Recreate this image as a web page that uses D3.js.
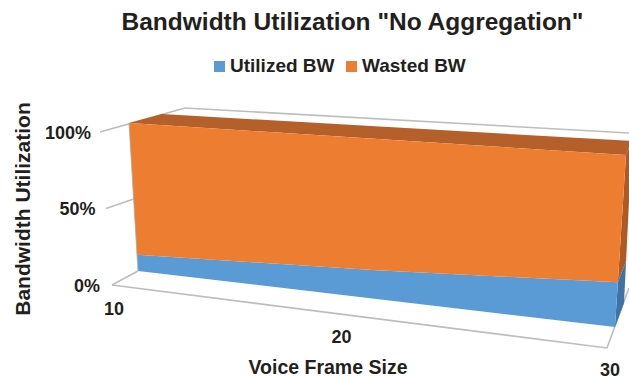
<!DOCTYPE html>
<html>
<head>
<meta charset="utf-8">
<script src="https://cdn.jsdelivr.net/npm/d3@7"></script>
<style>
  html, body { margin: 0; padding: 0; background: #fff; }
  svg { display: block; }
  text { font-family: "Liberation Sans", Arial, sans-serif; font-weight: bold; fill: #231f20; }
</style>
</head>
<body>
<svg id="chart" width="629" height="380"></svg>
<script>
// Chart values
const categories = ["10", "20", "30"];
const utilized = [11, 18, 26];
const wasted = [89, 82, 74];
const seriesNames = ["Utilized BW", "Wasted BW"];
const valueTicks = [0, 50, 100];

const colors = {
  utilized: "#5b9bd5", utilizedSide: "#3f73a3",
  wasted: "#ed7d31", wastedTop: "#b5602a", wastedSide: "#ad5a24",
  grid: "#bdbdbd"
};

// Corners of the 3D column box as they land on screen
const box = {
  frontLeft:  { base: [138, 271], top: [129, 123] },
  frontRight: { base: [615, 327], top: [626, 155] },
  backLeft:   { base: [170, 262], top: [162, 114] },
  backRight:  { base: [624, 303], top: [632, 141] }
};

const svg = d3.select("#chart");
const line = d3.line();
const lerp = (a, b, t) => [a[0] + (b[0] - a[0]) * t, a[1] + (b[1] - a[1]) * t];

// Category position along the floor, foreshortened towards the near corner
const catPos = d3.scalePoint().domain(categories).range([0, 1]);
const foreshorten = t => t / (t + 1.18 * (1 - t));
// Stacked value maps to height along each vertical box edge
const valuePos = d3.scaleLinear().domain([0, 100]).range([0, 1]);

function front(cat, v) {
  const t = catPos(cat), h = valuePos(v);
  return lerp(lerp(box.frontLeft.base, box.frontLeft.top, h),
              lerp(box.frontRight.base, box.frontRight.top, h), t);
}
function backRight(v) {
  return lerp(box.backRight.base, box.backRight.top, valuePos(v));
}

// Wall and floor grid
const grid = svg.append("g").attr("fill", "none").attr("stroke", colors.grid).attr("stroke-width", 1.6);
const wallLeft = d3.scaleLinear().domain([0, 100]).range([285, 132]);
const wallLeftX = d3.scaleLinear().domain([0, 100]).range([112, 100]);
const wallBackY = d3.scaleLinear().domain([0, 100]).range([271, 108]);
const wallBackX = d3.scaleLinear().domain([0, 100]).range([138, 185]);
valueTicks.forEach(v => {
  grid.append("path").attr("d", line([[wallLeftX(v), wallLeft(v)], [wallBackX(v), wallBackY(v)]]));
});
grid.append("path").attr("d", line([[wallBackX(100), wallBackY(100)], [629, 133]]));
grid.append("path").attr("d", line([[112, 285], [607, 348], [629, 288]]));

// Top and right faces of the stack
svg.append("path").attr("fill", colors.wastedTop)
  .attr("d", line([box.frontLeft.top, box.backLeft.top, box.backRight.top, box.frontRight.top]) + "Z");

const last = categories[categories.length - 1];
const lastIdx = categories.length - 1;
svg.append("path").attr("fill", colors.wastedSide)
  .attr("d", line([front(last, utilized[lastIdx]), backRight(utilized[lastIdx]), backRight(100), front(last, 100)]) + "Z");
svg.append("path").attr("fill", colors.utilizedSide)
  .attr("d", line([front(last, 0), backRight(0), backRight(utilized[lastIdx]), front(last, utilized[lastIdx])]) + "Z");

// Front faces built from the stacked series
const lower = categories.map((c, i) => front(c, 0));
const middle = categories.map((c, i) => front(c, utilized[i]));
const upper = categories.map((c, i) => front(c, utilized[i] + wasted[i]));
svg.append("path").attr("fill", colors.utilized)
  .attr("d", line(lower.concat(middle.slice().reverse())) + "Z");
svg.append("path").attr("fill", colors.wasted)
  .attr("d", line(middle.concat(upper.slice().reverse())) + "Z");

// Thin grey edge on the near-left side of the stack
svg.append("path").attr("fill", "none").attr("stroke", "#b0a8a0").attr("stroke-width", 0.8)
  .attr("d", line([box.frontLeft.base, box.frontLeft.top]));

// Title
svg.append("text").attr("x", 352.5).attr("y", 30).attr("text-anchor", "middle")
  .attr("font-size", 24.5).text('Bandwidth Utilization "No Aggregation"');

// Legend
const legendX = [214, 346], legendTextX = [230, 362];
const legendFill = [colors.utilized, colors.wasted];
seriesNames.forEach((name, i) => {
  svg.append("rect").attr("x", legendX[i]).attr("y", 61).attr("width", 11).attr("height", 11).attr("fill", legendFill[i]);
  svg.append("text").attr("x", legendTextX[i]).attr("y", 71.5).attr("font-size", 19).text(name);
});

// Value axis labels
const tickRight = d3.scaleLinear().domain([0, 100]).range([100, 91]);
valueTicks.forEach(v => {
  svg.append("text").attr("x", tickRight(v)).attr("y", wallLeft(v) + 6.5)
    .attr("text-anchor", "end").attr("font-size", 18).text(v + "%");
});

// Category axis labels, placed under the floor's front edge
const floorFront = t => lerp([112, 285], [607, 348], t);
const labelShift = d3.scaleLinear().domain([0, 1]).range([2, 3]);
const labelDrop = d3.scaleLinear().domain([0, 1]).range([30, 28]);
categories.forEach(c => {
  const t = foreshorten(catPos(c));
  const p = floorFront(t);
  svg.append("text").attr("x", p[0] + labelShift(t)).attr("y", p[1] + labelDrop(t))
    .attr("text-anchor", "middle").attr("font-size", 18).text(c);
});

// Axis titles
svg.append("text").attr("x", 328).attr("y", 374).attr("text-anchor", "middle")
  .attr("font-size", 19.5).text("Voice Frame Size");
svg.append("text").attr("transform", "translate(30,209) rotate(-90)").attr("text-anchor", "middle")
  .attr("font-size", 21).text("Bandwidth Utilization");
</script>
</body>
</html>
